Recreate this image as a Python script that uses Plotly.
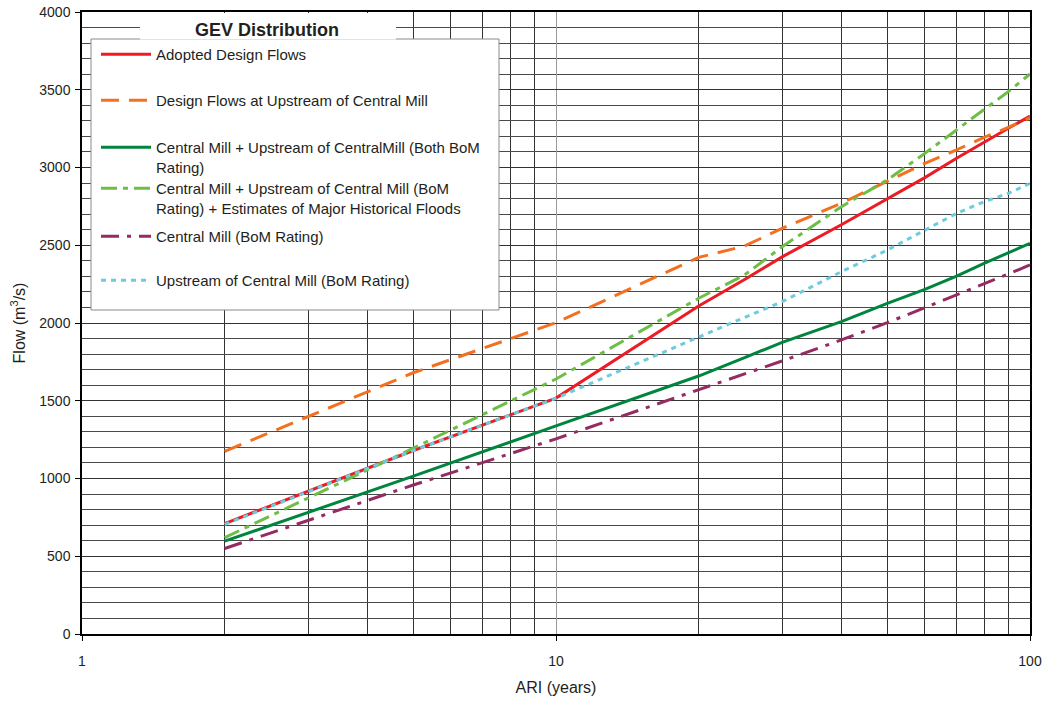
import plotly.graph_objects as go

# ARI (years) at which each frequency curve is defined
ari = [2, 5, 10, 20, 25, 30, 40, 50, 60, 70, 80, 90, 100]

# Peak flow estimates (m3/s)
adopted = [710, 1180, 1517, 2109, 2280, 2425, 2632, 2800, 2935, 3059, 3163, 3252, 3330]
upstream_design = [1175, 1680, 2002, 2422, 2495, 2609, 2770, 2909, 3027, 3113, 3194, 3258, 3320]
both_bom = [597, 1015, 1338, 1659, 1778, 1875, 2009, 2126, 2216, 2302, 2384, 2452, 2512]
bom_historical = [620, 1195, 1640, 2159, 2309, 2490, 2748, 2920, 3091, 3241, 3370, 3488, 3601]
central_mill_bom = [550, 958, 1255, 1569, 1672, 1756, 1891, 2002, 2099, 2180, 2251, 2315, 2373]
upstream_bom = [705, 1180, 1516, 1912, 2036, 2137, 2330, 2469, 2598, 2705, 2780, 2834, 2898]

series_names = [
    "Adopted Design Flows",
    "Design Flows at Upstream of Central Mill",
    "Central Mill + Upstream of CentralMill (Both BoM<br>Rating)",
    "Central Mill + Upstream of Central Mill (BoM<br>Rating) + Estimates of Major Historical Floods",
    "Central Mill (BoM Rating)",
    "Upstream of Central Mill (BoM Rating)",
]

x_tick_values = [1, 10, 100]
x_tick_labels = ["1", "10", "100"]
x_minor_values = [2, 3, 4, 5, 6, 7, 8, 9, 20, 30, 40, 50, 60, 70, 80, 90]

FONT = "Arial, Liberation Sans, sans-serif"

# plot-area geometry in pixels (used to place legend items / box)
W, H = 1049, 701
L, R, T, B = 82, 1030, 12, 634


def px_x(px):
    return (px - L) / (R - L)


def px_y(py):
    return (B - py) / (B - T)


styles = [
    dict(color="#ED1C24", width=3, dash="solid"),
    dict(color="#F37021", width=3, dash="18px,10px"),
    dict(color="#00853F", width=3, dash="solid"),
    dict(color="#6CBE45", width=3, dash="16px,6px,5px,6px"),
    dict(color="#962B63", width=3, dash="18px,8px,4px,8px"),
    dict(color="#6DCBDD", width=3, dash="5px,5px"),
]

values = [adopted, upstream_design, both_bom, bom_historical, central_mill_bom, upstream_bom]

# first-line centre of each legend entry (px)
legend_rows = [55, 101, 148, 189, 237, 281]

fig = go.Figure()
legend_keys = ["legend", "legend2", "legend3", "legend4", "legend5", "legend6"]
for name, vals, st, key in zip(series_names, values, styles, legend_keys):
    fig.add_trace(go.Scatter(
        x=ari, y=vals, mode="lines", name=name, line=st, legend=key,
    ))

layout_legends = {}
for key, row in zip(legend_keys, legend_rows):
    layout_legends[key] = dict(
        x=px_x(96), y=px_y(row - 17), xanchor="left", yanchor="top",
        bgcolor="rgba(0,0,0,0)", borderwidth=0,
        font=dict(family=FONT, size=15, color="#231F20"),
        valign="top", itemwidth=50,
    )

fig.update_layout(
    width=W, height=H,
    margin=dict(l=L, r=W - R, t=T, b=H - B, autoexpand=False),
    paper_bgcolor="white", plot_bgcolor="white",
    font=dict(family=FONT, size=14, color="#231F20"),
    showlegend=True,
    **layout_legends,
)

fig.update_xaxes(
    type="log", range=[0, 2], automargin=False,
    tickmode="array", tickvals=x_tick_values, ticktext=x_tick_labels,
    ticks="outside", ticklen=5, tickcolor="black",
    ticklabelstandoff=8,
    tickfont=dict(family=FONT, size=14, color="#231F20"),
    showgrid=True, gridcolor="#9a9a9a", gridwidth=1,
    minor=dict(tickmode="array", tickvals=x_minor_values, showgrid=True,
               gridcolor="#333333", gridwidth=1, ticks=""),
    showline=True, mirror=True, linecolor="black", linewidth=1.5,
    title=dict(text="ARI (years)", font=dict(family=FONT, size=16, color="#231F20"), standoff=14),
)

fig.update_yaxes(
    range=[0, 4000], dtick=500, tick0=0, automargin=False,
    ticks="outside", ticklen=5, tickcolor="black",
    ticklabelstandoff=2,
    tickfont=dict(family=FONT, size=14, color="#231F20"),
    showgrid=True, gridcolor="#333333", gridwidth=1,
    minor=dict(dtick=100, showgrid=True, gridcolor="#4a4a4a", gridwidth=1, ticks=""),
    showline=True, mirror=True, linecolor="black", linewidth=1.5,
    zeroline=False,
    title=dict(text="Flow (m<sup>3</sup>/s)", font=dict(family=FONT, size=16, color="#231F20"), standoff=10),
)

# legend frame and the white band behind its heading
fig.add_shape(type="rect", xref="paper", yref="paper",
              x0=px_x(91), x1=px_x(499), y0=px_y(310), y1=px_y(39),
              fillcolor="white", line=dict(color="#8a8a8a", width=1), layer="above")
fig.add_shape(type="rect", xref="paper", yref="paper",
              x0=px_x(140), x1=px_x(396), y0=px_y(39.5), y1=px_y(13),
              fillcolor="white", line=dict(width=0), layer="above")
fig.add_annotation(
    text="<b>GEV Distribution</b>", xref="paper", yref="paper",
    x=px_x(267), y=px_y(30), xanchor="center", yanchor="middle",
    showarrow=False, font=dict(family=FONT, size=18, color="#231F20"),
)

fig.write_html("out.html")
